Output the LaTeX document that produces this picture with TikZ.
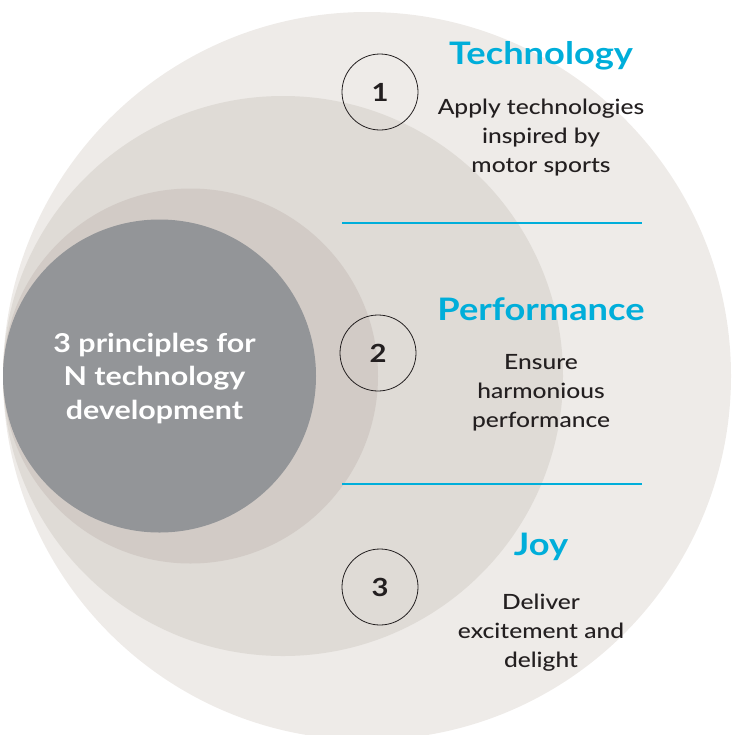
\documentclass[tikz,border=0pt]{standalone}
\usepackage{fontspec}
\setmainfont{Lato}[FakeStretch=1.17]
\newfontfamily\bodyfont{Lato Medium}[FakeStretch=1.17]
\definecolor{cone}{HTML}{EEEBE8}
\definecolor{ctwo}{HTML}{DFDBD6}
\definecolor{cthree}{HTML}{D2CBC6}
\definecolor{ccore}{HTML}{939598}
\definecolor{ccyan}{HTML}{00AEDA}
\definecolor{ctext}{HTML}{231F20}
\begin{document}
\begin{tikzpicture}[x=1pt,y=-1pt,
  ring/.style={circle,inner sep=0pt,draw=none},
  marker/.style={circle,draw=ctext,line width=0.8pt,minimum size=76pt,inner sep=0pt,
    text=ctext,font=\fontsize{25}{25}\selectfont\bfseries},
  heading/.style={text=ccyan,font=\fontsize{31}{31}\selectfont\bfseries,anchor=base},
  body/.style={text=ctext,align=center,font=\bodyfont\fontsize{21}{29}\selectfont,anchor=base},
  sep/.style={draw=ccyan,line width=1.1pt}]
\useasboundingbox (0,0) rectangle (738,734);
\begin{scope}
\clip (0,0) rectangle (738,734);
\node[ring,fill=cone,minimum size=728pt] (r1) at (367,376) {};
\end{scope}
\node[ring,fill=ctwo,minimum size=560pt] (r2) at (283,376) {};
\node[ring,fill=cthree,minimum size=375pt] (r3) at (190.5,376) {};
\node[ring,fill=ccore,minimum size=313pt] (core) at (159.5,376) {};
\node[text=white,align=center,anchor=base,font=\fontsize{26}{33.5}\selectfont\bfseries] (title) at (154.5,419)
  {3 principles for\\N technology\\development};
\node[marker] (m1) at (380,92) {1};
\node[marker] (m2) at (378,353) {2};
\node[marker] (m3) at (380,587) {3};
\node[heading] (h1) at (541,64.5) {Technology};
\node[body] (b1) at (541,172) {Apply technologies\\inspired by\\motor sports};
\node[heading] (h2) at (541,320) {Performance};
\node[body] (b2) at (541,427) {Ensure\\harmonious\\performance};
\node[heading] (h3) at (541,555) {Joy};
\node[body] (b3) at (541,667) {Deliver\\excitement and\\delight};
\coordinate (s1a) at (342,223);
\coordinate (s1b) at (642,223);
\coordinate (s2a) at (342,484);
\coordinate (s2b) at (642,484);
\draw[sep] (s1a) -- (s1b);
\draw[sep] (s2a) -- (s2b);
\end{tikzpicture}
\end{document}
